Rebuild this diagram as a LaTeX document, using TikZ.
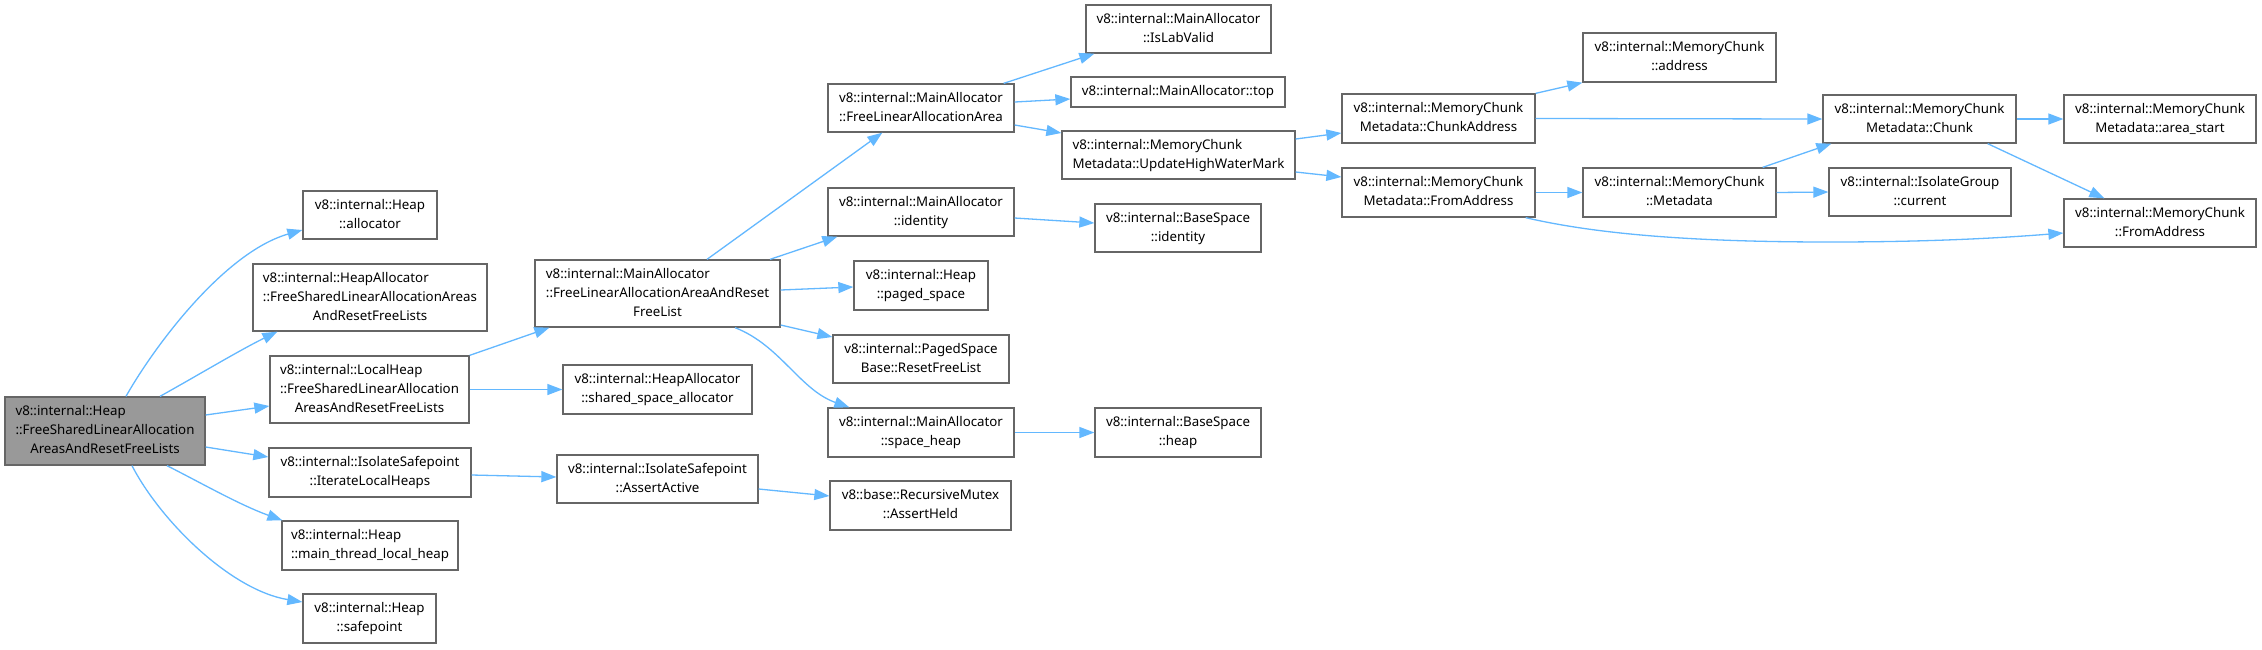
\documentclass[tikz,border=0pt]{standalone}
\usepackage{fontspec}
\setmainfont{Noto Sans}
\usetikzlibrary{arrows.meta,calc}
\definecolor{boxborder}{HTML}{666666}
\definecolor{edgeblue}{HTML}{63B8FF}
\definecolor{rootfill}{HTML}{999999}
\newcommand{\labii}[2]{\begin{tabular}{@{}l@{}}#1\\\multicolumn{1}{@{}c@{}}{#2}\end{tabular}}
\newcommand{\labiii}[3]{\begin{tabular}{@{}l@{}}#1\\#2\\\multicolumn{1}{@{}c@{}}{#3}\end{tabular}}
\tikzset{
  nodebox/.style={draw=boxborder, line width=1.3pt, fill=white, inner sep=0pt, align=center,
    font=\fontsize{13.3}{19}\selectfont},
  edgeline/.style={draw=edgeblue, line width=1.3pt, -{Triangle[length=15pt,width=11pt]}, fill=none},
}
\begin{document}
\begin{tikzpicture}[x=1pt,y=-1pt]
\fill[white] (0,0) rectangle (2262,649);
\useasboundingbox (0,0) rectangle (2262,649);

% column 0
\node[nodebox, fill=rootfill, minimum width=200pt, minimum height=68pt] (root) at (105,431)
  {\labiii{v8::internal::Heap}{::FreeSharedLinearAllocation}{AreasAndResetFreeLists}};

% column 1
\node[nodebox, minimum width=134pt, minimum height=48pt] (alloc) at (370,215)
  {\labii{v8::internal::Heap}{::allocator}};
\node[nodebox, minimum width=234pt, minimum height=67pt] (hafree) at (370,297.5)
  {\labiii{v8::internal::HeapAllocator}{::FreeSharedLinearAllocationAreas}{AndResetFreeLists}};
\node[nodebox, minimum width=199pt, minimum height=67pt] (localheap) at (369.5,389.5)
  {\labiii{v8::internal::LocalHeap}{::FreeSharedLinearAllocation}{AreasAndResetFreeLists}};
\node[nodebox, minimum width=202pt, minimum height=49pt] (iterate) at (370,472.5)
  {\labii{v8::internal::IsolateSafepoint}{::IterateLocalHeaps}};
\node[nodebox, minimum width=176pt, minimum height=49pt] (mainthread) at (370,545.5)
  {\labii{v8::internal::Heap}{::main\_thread\_local\_heap}};
\node[nodebox, minimum width=133pt, minimum height=49pt] (safepoint) at (369.5,618.5)
  {\labii{v8::internal::Heap}{::safepoint}};

% column 2
\node[nodebox, minimum width=245pt, minimum height=67pt] (flaaarfl) at (657.5,293.5)
  {\labiii{v8::internal::MainAllocator}{::FreeLinearAllocationAreaAndReset}{FreeList}};
\node[nodebox, minimum width=189pt, minimum height=49pt] (shared) at (657.5,389.5)
  {\labii{v8::internal::HeapAllocator}{::shared\_space\_allocator}};
\node[nodebox, minimum width=201pt, minimum height=48pt] (assertactive) at (657.5,479)
  {\labii{v8::internal::IsolateSafepoint}{::AssertActive}};

% column 3
\node[nodebox, minimum width=186pt, minimum height=48pt] (flaa) at (921,108)
  {\labii{v8::internal::MainAllocator}{::FreeLinearAllocationArea}};
\node[nodebox, minimum width=186pt, minimum height=48pt] (maident) at (921,212)
  {\labii{v8::internal::MainAllocator}{::identity}};
\node[nodebox, minimum width=134pt, minimum height=49pt] (pagedspace) at (921,285.5)
  {\labii{v8::internal::Heap}{::paged\_space}};
\node[nodebox, minimum width=176pt, minimum height=48pt] (resetfl) at (921,359)
  {\labii{v8::internal::PagedSpace}{Base::ResetFreeList}};
\node[nodebox, minimum width=186pt, minimum height=49pt] (spaceheap) at (921,432.5)
  {\labii{v8::internal::MainAllocator}{::space\_heap}};
\node[nodebox, minimum width=181pt, minimum height=49pt] (assertheld) at (920.5,505.5)
  {\labii{v8::base::RecursiveMutex}{::AssertHeld}};

% column 4
\node[nodebox, minimum width=185pt, minimum height=48pt] (labvalid) at (1178.5,29)
  {\labii{v8::internal::MainAllocator}{::IsLabValid}};
\node[nodebox, minimum width=214pt, minimum height=30pt] (top) at (1178,92)
  {v8::internal::MainAllocator::top};
\node[nodebox, minimum width=233pt, minimum height=48pt] (uhwm) at (1178.5,155)
  {\labii{v8::internal::MemoryChunk}{Metadata::UpdateHighWaterMark}};
\node[nodebox, minimum width=166pt, minimum height=48pt] (bsident) at (1178,228)
  {\labii{v8::internal::BaseSpace}{::identity}};
\node[nodebox, minimum width=166pt, minimum height=49pt] (bsheap) at (1178,432.5)
  {\labii{v8::internal::BaseSpace}{::heap}};

% column 5
\node[nodebox, minimum width=193pt, minimum height=49pt] (chunkaddr) at (1438.5,118.5)
  {\labii{v8::internal::MemoryChunk}{Metadata::ChunkAddress}};
\node[nodebox, minimum width=193pt, minimum height=49pt] (mdfromaddr) at (1438.5,192.5)
  {\labii{v8::internal::MemoryChunk}{Metadata::FromAddress}};

% column 6
\node[nodebox, minimum width=193pt, minimum height=49pt] (address) at (1679.5,57.5)
  {\labii{v8::internal::MemoryChunk}{::address}};
\node[nodebox, minimum width=193pt, minimum height=49pt] (metadata) at (1679.5,192.5)
  {\labii{v8::internal::MemoryChunk}{::Metadata}};

% column 7
\node[nodebox, minimum width=193pt, minimum height=48pt] (chunk) at (1919.5,119)
  {\labii{v8::internal::MemoryChunk}{Metadata::Chunk}};
\node[nodebox, minimum width=182pt, minimum height=48pt] (current) at (1920,192)
  {\labii{v8::internal::IsolateGroup}{::current}};

% column 8
\node[nodebox, minimum width=192pt, minimum height=48pt] (areastart) at (2160,119)
  {\labii{v8::internal::MemoryChunk}{Metadata::area\_start}};
\node[nodebox, minimum width=192pt, minimum height=48pt] (mcfromaddr) at (2160,223)
  {\labii{v8::internal::MemoryChunk}{::FromAddress}};

% edges
\draw[edgeline] ($(root.north)+(21,0)$) .. controls (155,345) and (225,252) .. ($(alloc.west)+(0,15)$);
\draw[edgeline] ($(root.north)+(55,0)$) .. controls (200,374) and (240,350) .. ($(hafree.south west)+(25,0)$);
\draw[edgeline] ($(root.east)+(0,-16)$) -- ($(localheap.west)+(0,16.5)$);
\draw[edgeline] ($(root.east)+(0,16)$) -- ($(iterate.west)+(0,-15.5)$);
\draw[edgeline] ($(root.south)+(62,0)$) .. controls (205,485) and (240,505) .. ($(mainthread.north west)+(1,0)$);
\draw[edgeline] ($(root.south)+(27,0)$) .. controls (160,520) and (230,590) .. ($(safepoint.west)+(0,-16.5)$);

\draw[edgeline] (localheap.north east) -- ($(flaaarfl.south west)+(15,0)$);
\draw[edgeline] (localheap.east) -- (shared.west);
\draw[edgeline] ($(iterate.east)+(0,2.5)$) -- ($(assertactive.west)+(0,-2)$);
\draw[edgeline] ($(assertactive.east)+(0,10)$) -- ($(assertheld.west)+(0,-9.5)$);

\draw[edgeline] ($(flaaarfl.north)+(49.5,0)$) -- ($(flaa.south west)+(55,0)$);
\draw[edgeline] ($(flaaarfl.north)+(112.5,0)$) -- ($(maident.south west)+(10,0)$);
\draw[edgeline] ($(flaaarfl.east)+(0,-3.5)$) -- ($(pagedspace.west)+(0,1.5)$);
\draw[edgeline] ($(flaaarfl.east)+(0,31.5)$) -- ($(resetfl.west)+(0,-22)$);
\draw[edgeline] ($(flaaarfl.south)+(77.5,0)$) .. controls (780,345) and (800,390) .. ($(spaceheap.north west)+(22,0)$);

\draw[edgeline] ($(flaa.north east)+(-11,0)$) -- ($(labvalid.south west)+(9,0)$);
\draw[edgeline] ($(flaa.east)+(0,-6)$) -- ($(top.west)+(0,7)$);
\draw[edgeline] ($(flaa.east)+(0,17)$) -- ($(uhwm.west)+(0,-22)$);
\draw[edgeline] ($(maident.east)+(0,6)$) -- ($(bsident.west)+(0,-5)$);
\draw[edgeline] (spaceheap.east) -- (bsheap.west);

\draw[edgeline] ($(uhwm.east)+(0,-16)$) -- ($(chunkaddr.west)+(0,14.5)$);
\draw[edgeline] ($(uhwm.east)+(0,17)$) -- ($(mdfromaddr.west)+(0,-15.5)$);
\draw[edgeline] (chunkaddr.north east) -- (address.south west);
\draw[edgeline] (chunkaddr.east) -- (chunk.west);
\draw[edgeline] (mdfromaddr.east) -- (metadata.west);
\draw[edgeline] ($(mdfromaddr.south east)+(-10,0)$) .. controls (1600,235) and (1700,242) .. (1830,242)
  .. controls (1930,242) and (2000,238) .. ($(mcfromaddr.west)+(0,10)$);
\draw[edgeline] ($(metadata.north east)+(-14,0)$) -- ($(chunk.south west)+(9,0)$);
\draw[edgeline] (metadata.east) -- (current.west);
\draw[edgeline] (chunk.east) -- (areastart.west);
\draw[edgeline] ($(chunk.south east)+(-29,0)$) -- ($(mcfromaddr.north west)+(41,0)$);
\end{tikzpicture}
\end{document}
